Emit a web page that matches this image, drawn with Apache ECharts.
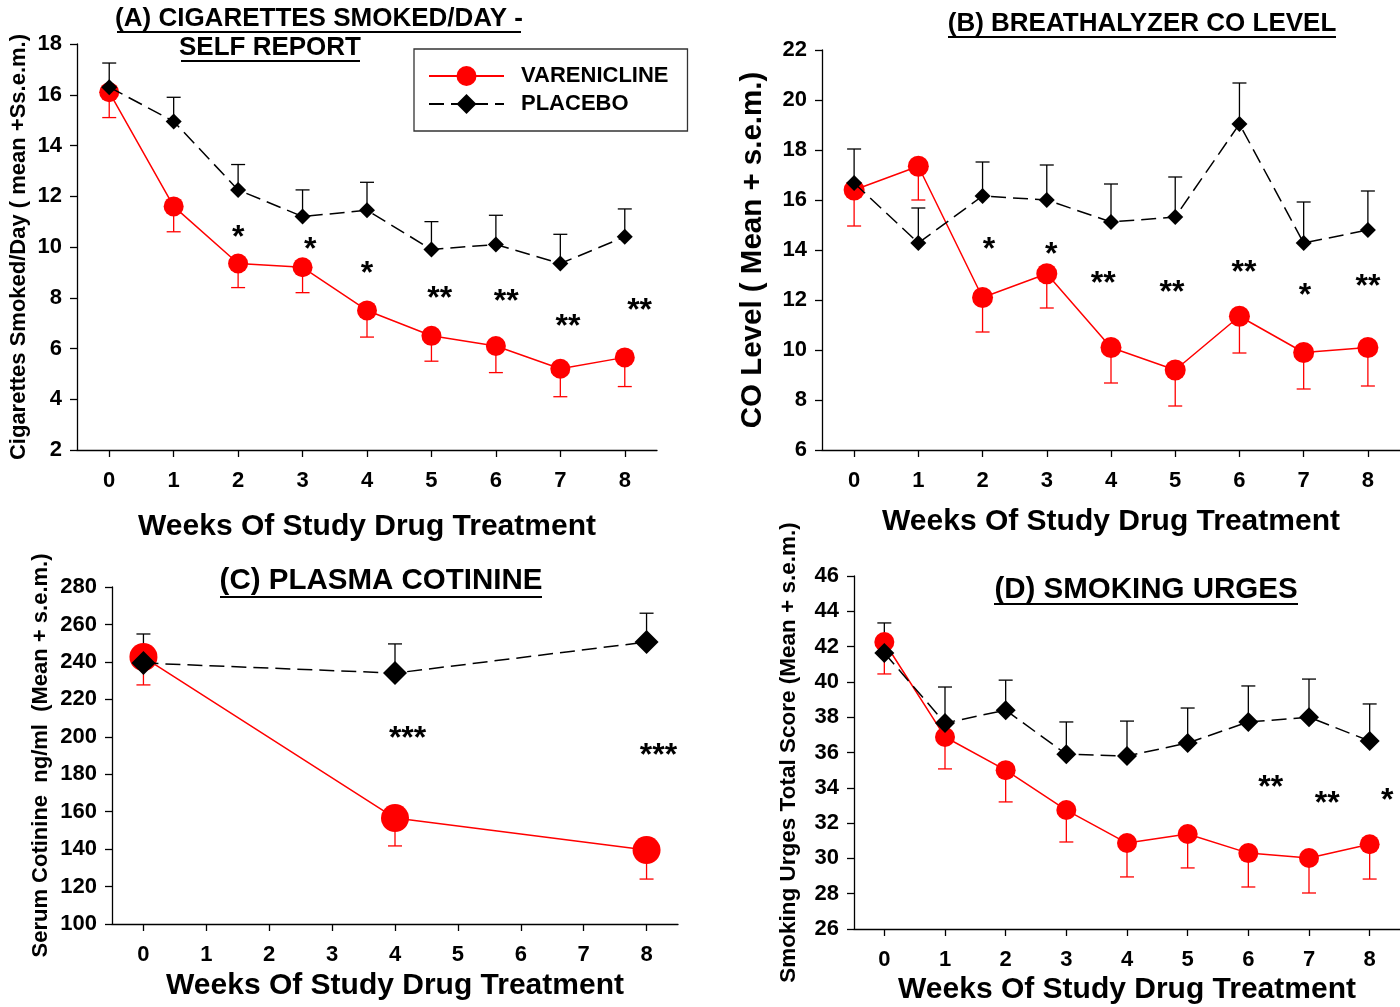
<!DOCTYPE html>
<html>
<head>
<meta charset="utf-8">
<script src="https://cdn.jsdelivr.net/npm/echarts@6/dist/echarts.min.js"></script>
<style>
html,body{margin:0;padding:0;background:#fff;}
#chart{width:1400px;height:1007px;}
</style>
</head>
<body>
<div id="chart"></div>
<script>
// ---------- data ----------
const weeks = [0, 1, 2, 3, 4, 5, 6, 7, 8];
const xTickLabels = [0, 1, 2, 3, 4, 5, 6, 7, 8];
const seriesNames = ['VARENICLINE', 'PLACEBO'];

// (A) cigarettes smoked/day
const aVarMean = [16.1, 11.6, 9.35, 9.2, 7.5, 6.5, 6.1, 5.2, 5.65];
const aVarLow  = [15.1, 10.6, 8.4, 8.2, 6.45, 5.5, 5.05, 4.1, 4.5];
const aPlaMean = [16.3, 14.95, 12.25, 11.2, 11.45, 9.9, 10.1, 9.35, 10.4];
const aPlaHigh = [17.25, 15.9, 13.25, 12.25, 12.55, 11.0, 11.25, 10.5, 11.5];
const aStarX = [2.0, 3.12, 4.0, 5.13, 6.16, 7.12, 8.23];
const aStarY = [10.66, 10.2, 9.24, 8.26, 8.14, 7.16, 7.8];
const aStarText = ['*', '*', '*', '**', '**', '**', '**'];

// (B) breathalyzer CO
const bVarMean = [16.4, 17.35, 12.1, 13.05, 10.1, 9.2, 11.35, 9.9, 10.1];
const bVarLow  = [14.96, 16.0, 10.72, 11.68, 8.68, 7.76, 9.88, 8.44, 8.56];
const bPlaMean = [16.68, 14.28, 16.16, 16.0, 15.12, 15.32, 19.04, 14.28, 14.8];
const bPlaHigh = [18.04, 15.68, 17.52, 17.4, 16.64, 16.92, 20.68, 15.92, 16.36];
const bStarX = [2.1, 3.07, 3.88, 4.95, 6.07, 7.02, 8.0];
const bStarY = [14.32, 14.12, 12.96, 12.6, 13.4, 12.48, 12.84];
const bStarText = ['*', '*', '**', '**', '**', '*', '**'];

// (C) plasma cotinine
const cWeeks = [0, 4, 8];
const cVarMean = [242.6, 156.6, 139.5];
const cVarLow  = [227.7, 141.7, 124.0];
const cPlaMean = [239.4, 234.0, 250.6];
const cPlaHigh = [254.9, 249.6, 266.0];
const cStarX = [4.2, 8.19];
const cStarY = [203, 194];
const cStarText = ['***', '***'];

// (D) smoking urges
const dVarMean = [42.26, 36.88, 35.0, 32.74, 30.87, 31.38, 30.3, 30.02, 30.8];
const dVarLow  = [40.45, 35.07, 33.2, 30.93, 28.95, 29.46, 28.38, 28.04, 28.83];
const dPlaMean = [41.64, 37.67, 38.4, 35.9, 35.8, 36.54, 37.73, 38.0, 36.65];
const dPlaHigh = [43.34, 39.71, 40.1, 37.73, 37.78, 38.52, 39.77, 40.16, 38.75];
const dStarX = [6.37, 7.3, 8.29];
const dStarY = [34.44, 33.54, 33.7];
const dStarText = ['**', '**', '*'];

// ---------- builders ----------
const FONT = "'Liberation Sans', Arial, sans-serif";
const RED = '#ff0000';
const BLACK = '#000000';

const panels = [
  {grid:{left:77, top:44, width:580, height:406}, y:{min:2, max:18, interval:2},
   yName:'Cigarettes Smoked/Day ( mean +Ss.e.m.)', yNameSize:22, yNameGap:47, xNameGap:62,
   x:weeks, vm:aVarMean, vl:aVarLow, pm:aPlaMean, ph:aPlaHigh,
   sx:aStarX, sy:aStarY, st:aStarText, circ:20, diam:16},
  {grid:{left:822, top:50, width:578, height:400}, y:{min:6, max:22, interval:2},
   yName:'CO Level ( Mean + s.e.m.)', yNameSize:29.5, yNameGap:54, xNameGap:57,
   x:weeks, vm:bVarMean, vl:bVarLow, pm:bPlaMean, ph:bPlaHigh,
   sx:bStarX, sy:bStarY, st:bStarText, circ:21, diam:16},
  {grid:{left:112, top:587, width:566, height:337}, y:{min:100, max:280, interval:20},
   yName:'Serum Cotinine  ng/ml  (Mean + s.e.m.)', yNameSize:22, yNameGap:60, xNameGap:47,
   x:cWeeks, vm:cVarMean, vl:cVarLow, pm:cPlaMean, ph:cPlaHigh,
   sx:cStarX, sy:cStarY, st:cStarText, circ:28, diam:24},
  {grid:{left:854, top:576, width:546, height:353}, y:{min:26, max:46, interval:2},
   yName:'Smoking Urges Total Score (Mean + s.e.m.)', yNameSize:22.5, yNameGap:54, xNameGap:46,
   x:weeks, vm:dVarMean, vl:dVarLow, pm:dPlaMean, ph:dPlaHigh,
   sx:dStarX, sy:dStarY, st:dStarText, circ:20, diam:20}
];

const grids = [], xAxes = [], yAxes = [], series = [];

function errRender(color) {
  return function (params, api) {
    const p1 = api.coord([api.value(0), api.value(1)]);
    const p2 = api.coord([api.value(0), api.value(2)]);
    const st = {stroke: color, lineWidth: 1.3};
    return {type:'group', children:[
      {type:'line', shape:{x1:p1[0], y1:p1[1], x2:p2[0], y2:p2[1]}, style:st},
      {type:'line', shape:{x1:p2[0]-7, y1:p2[1], x2:p2[0]+7, y2:p2[1]}, style:st}
    ]};
  };
}
function starRender(texts) {
  return function (params, api) {
    const p = api.coord([api.value(0), api.value(1)]);
    return {type:'text', x:p[0], y:p[1] + 8,
      style:{text: texts[params.dataIndex], fill: BLACK, font: 'bold 32px ' + FONT, align:'center', verticalAlign:'middle'}};
  };
}

panels.forEach((pn, i) => {
  grids.push(pn.grid);
  xAxes.push({
    type:'value', gridIndex:i, min:-0.5, max:8.5,
    name:'Weeks Of Study Drug Treatment', nameLocation:'middle', nameGap:pn.xNameGap,
    nameTextStyle:{fontFamily:FONT, fontWeight:'bold', fontSize:30, color:BLACK},
    axisLine:{onZero:false, lineStyle:{color:BLACK, width:1.3}},
    axisTick:{show:true, length:7, lineStyle:{color:BLACK, width:1.3}, customValues:xTickLabels},
    axisLabel:{customValues:xTickLabels, fontFamily:FONT, fontWeight:'bold', fontSize:22, color:BLACK, margin:20},
    splitLine:{show:false}
  });
  yAxes.push({
    type:'value', gridIndex:i, min:pn.y.min, max:pn.y.max, interval:pn.y.interval,
    name:pn.yName, nameLocation:'middle', nameGap:pn.yNameGap, nameRotate:90,
    nameTextStyle:{fontFamily:FONT, fontWeight:'bold', fontSize:pn.yNameSize, color:BLACK},
    axisLine:{show:true, onZero:false, lineStyle:{color:BLACK, width:1.3}},
    axisTick:{show:true, length:7, lineStyle:{color:BLACK, width:1.3}},
    axisLabel:{fontFamily:FONT, fontWeight:'bold', fontSize:22, color:BLACK, margin:15},
    splitLine:{show:false}
  });
  series.push({
    type:'custom', xAxisIndex:i, yAxisIndex:i, z:1, silent:true,
    data: pn.x.map((w, k) => [w, pn.vm[k], pn.vl[k]]),
    renderItem: errRender(RED)
  });
  series.push({
    type:'custom', xAxisIndex:i, yAxisIndex:i, z:1, silent:true,
    data: pn.x.map((w, k) => [w, pn.pm[k], pn.ph[k]]),
    renderItem: errRender(BLACK)
  });
  series.push({
    name: seriesNames[0], type:'line', xAxisIndex:i, yAxisIndex:i, z:3,
    data: pn.x.map((w, k) => [w, pn.vm[k]]),
    symbol:'circle', symbolSize:pn.circ, color:RED,
    itemStyle:{color:RED}, lineStyle:{color:RED, width:1.5}
  });
  series.push({
    name: seriesNames[1], type:'line', xAxisIndex:i, yAxisIndex:i, z:4,
    data: pn.x.map((w, k) => [w, pn.pm[k]]),
    symbol:'diamond', symbolSize:pn.diam, color:BLACK,
    itemStyle:{color:BLACK}, lineStyle:{color:BLACK, width:1.5, type:[15, 7]}
  });
  series.push({
    type:'custom', xAxisIndex:i, yAxisIndex:i, z:5, silent:true,
    data: pn.sx.map((x, k) => [x, pn.sy[k]]),
    renderItem: starRender(pn.st)
  });
});

function titleText(txt, cx, cy, size) {
  return {type:'text', x:cx, y:cy, style:{text:txt, fill:BLACK, font:'bold ' + size + 'px ' + FONT, align:'center', verticalAlign:'middle'}};
}
function underline(x1, x2, y) {
  return {type:'line', shape:{x1:x1, y1:y, x2:x2, y2:y}, style:{stroke:BLACK, lineWidth:2.2}};
}

const option = {
  backgroundColor:'#ffffff',
  animation:false,
  grid: grids,
  xAxis: xAxes,
  yAxis: yAxes,
  legend: {
    data: seriesNames, orient:'vertical', left:414, top:49,
    padding:[16, 19, 16, 14], itemGap:6, itemWidth:75, itemHeight:25,
    borderColor:'#333', borderWidth:1.3,
    textStyle:{fontFamily:FONT, fontWeight:'bold', fontSize:22, color:BLACK, padding:[0,0,0,12]}
  },
  graphic: [
    titleText('(A) CIGARETTES SMOKED/DAY -', 319, 19, 26),
    underline(117, 521, 32),
    titleText('SELF REPORT', 270, 48, 26),
    underline(181, 360, 61),
    titleText('(B) BREATHALYZER CO LEVEL', 1142, 24, 26),
    underline(948, 1336, 37),
    titleText('(C) PLASMA COTININE', 381, 581, 29.5),
    underline(220, 542, 597),
    titleText('(D) SMOKING URGES', 1146, 590, 29.5),
    underline(994, 1298, 604)
  ],
  series: series
};

const chart = echarts.init(document.getElementById('chart'), null, {renderer:'canvas'});
chart.setOption(option);
</script>
</body>
</html>
